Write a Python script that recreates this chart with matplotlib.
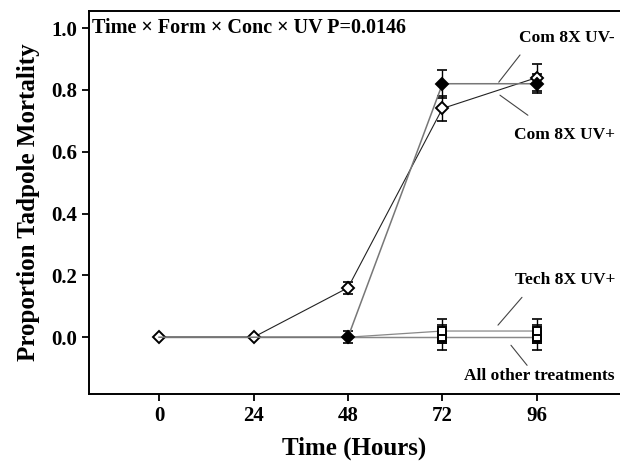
import matplotlib
matplotlib.use("Agg")
import matplotlib.pyplot as plt
import numpy as np

plt.rcParams['font.family'] = ['Liberation Serif', 'DejaVu Serif']
plt.rcParams['font.weight'] = 'bold'

# data
hours = np.array([0, 24, 48, 72, 96])
com_uvm = np.array([0.0, 0.0, 0.0, 0.82, 0.82])
com_uvm_err = np.array([0.0, 0.0, 0.02, 0.045, 0.03])
com_uvp = np.array([0.0, 0.0, 0.16, 0.74, 0.84])
com_uvp_err = np.array([0.0, 0.0, 0.02, 0.04, 0.045])
tech_uvp = np.array([0.0, 0.0, 0.0, 0.02, 0.02])
tech_uvp_err = np.array([0.0, 0.0, 0.0, 0.04, 0.04])
other = np.array([0.0, 0.0, 0.0, 0.0, 0.0])
other_err = np.array([0.0, 0.0, 0.0, 0.04, 0.04])
other_err2 = np.array([0.0, 0.0, 0.0, 0.02, 0.02])

fig = plt.figure(figsize=(6.2, 4.62), dpi=100)
ax = fig.add_axes([0.1435, 0.147, 0.8565, 0.829])

ebkw = dict(fmt='none', ecolor='black', elinewidth=1.0, capsize=3.5, capthick=1.2)


def series(y, err, lc, marker, mfc, mevery, lw=0.9):
    ax.plot(hours, y, color=lc, lw=lw, marker=marker, ms=6, mfc=mfc,
            mec='black', mew=1.4, markevery=mevery, zorder=3)
    k = err > 0
    ax.errorbar(hours[k], y[k], yerr=err[k], zorder=2, **ebkw)


series(other, other_err, '#888888', 's', 'white', [3, 4])
series(other, other_err2, '#888888', 's', 'white', [3, 4])
series(tech_uvp, tech_uvp_err, '#888888', 's', 'white', [3, 4])
series(com_uvp, com_uvp_err, '#222222', 'D', 'white', [0, 1, 2, 3, 4], lw=0.8)
series(com_uvm, com_uvm_err, '#777777', 'D', 'black', [2, 3, 4], lw=1.1)

ax.set_xlim(-17.8, 117.1)
ax.set_ylim(-0.184, 1.055)
ax.set_xticks(hours)
ax.set_yticks([0.0, 0.2, 0.4, 0.6, 0.8, 1.0])
ax.set_yticklabels(['0.0', '0.2', '0.4', '0.6', '0.8', '1.0'])
ax.tick_params(labelsize=15, width=1.3, length=5, direction='out')
for lab in ax.get_xticklabels() + ax.get_yticklabels():
    lab.set_fontweight('bold')
for s in ['left', 'bottom', 'top']:
    ax.spines[s].set_linewidth(1.4)
ax.spines['right'].set_visible(False)

ax.set_xlabel('Time (Hours)', fontsize=18, fontweight='bold', labelpad=8)
ax.set_ylabel('Proportion Tadpole Mortality', fontsize=18, fontweight='bold', labelpad=8)

ax.text(-17.0, 1.0, 'Time \u00d7 Form \u00d7 Conc \u00d7 UV P=0.0146', fontsize=14.5,
        fontweight='bold', va='center', ha='left')

lead = dict(arrowstyle='-', color='#444444', lw=0.8, shrinkA=0, shrinkB=0)
ax.text(115.8, 0.968, 'Com 8X UV-', fontsize=12.5, fontweight='bold', ha='right', va='center')
ax.annotate('', xy=(86.3, 0.825), xytext=(91.7, 0.913), arrowprops=lead)
ax.text(115.8, 0.654, 'Com 8X UV+', fontsize=12.5, fontweight='bold', ha='right', va='center')
ax.annotate('', xy=(86.6, 0.783), xytext=(93.7, 0.718), arrowprops=lead)
ax.text(115.8, 0.184, 'Tech 8X UV+', fontsize=12.5, fontweight='bold', ha='right', va='center')
ax.annotate('', xy=(86.1, 0.039), xytext=(92.2, 0.129), arrowprops=lead)
ax.text(115.8, -0.126, 'All other treatments', fontsize=12.5, fontweight='bold', ha='right', va='center')
ax.annotate('', xy=(89.4, -0.026), xytext=(93.5, -0.091), arrowprops=lead)

fig.savefig('out.png', dpi=100)
